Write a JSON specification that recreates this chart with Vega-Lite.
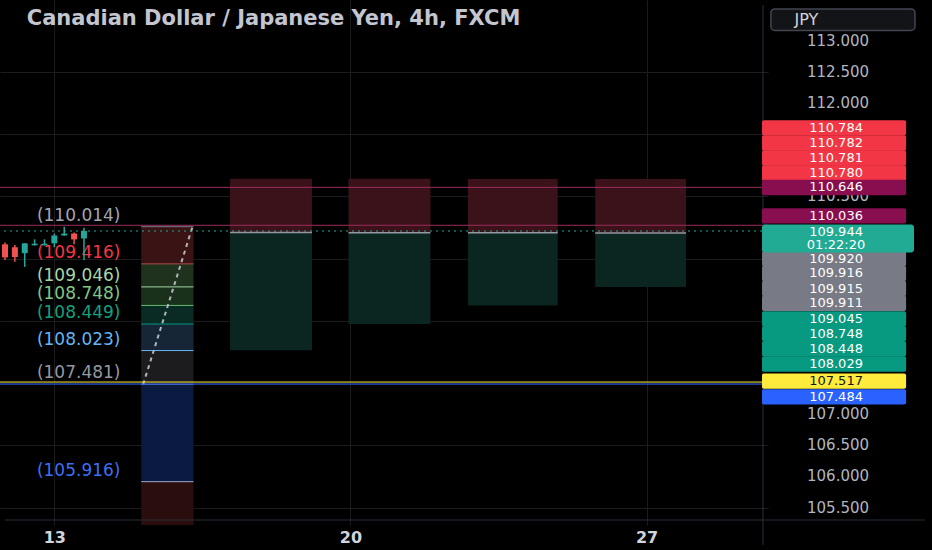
{
 "$schema": "https://vega.github.io/schema/vega-lite/v6.json",
 "width": 768,
 "height": 525,
 "autosize": {"type": "none"},
 "padding": {"left": 0, "top": 0, "right": 164, "bottom": 25},
 "background": "#000000",
 "config": {"view": {"stroke": null}, "font": "DejaVu Sans", "axis": {"titleOpacity": 0}},
 "datasets": {
  "candles": [
   {"i": -5, "o": 109.73, "h": 109.76, "l": 109.48, "c": 109.52, "k": "down"},
   {"i": -4, "o": 109.683, "h": 109.72, "l": 109.45, "c": 109.525, "k": "down"},
   {"i": -3, "o": 109.588, "h": 109.746, "l": 109.367, "c": 109.746, "k": "up"},
   {"i": -2, "o": 109.715, "h": 109.81, "l": 109.71, "c": 109.74, "k": "up"},
   {"i": -1, "o": 109.715, "h": 109.81, "l": 109.71, "c": 109.74, "k": "up"},
   {"i": 0, "o": 109.746, "h": 109.903, "l": 109.683, "c": 109.872, "k": "up"},
   {"i": 1, "o": 109.872, "h": 110.014, "l": 109.868, "c": 109.903, "k": "up"},
   {"i": 2, "o": 109.903, "h": 109.92, "l": 109.73, "c": 109.809, "k": "down"},
   {"i": 3, "o": 109.824, "h": 109.998, "l": 109.478, "c": 109.944, "k": "up"}
  ],
  "fibZones": [
   {"top": 110.014, "bot": 109.416, "k": "fz1"},
   {"top": 109.416, "bot": 109.046, "k": "fz2"},
   {"top": 109.046, "bot": 108.748, "k": "fz3"},
   {"top": 108.748, "bot": 108.449, "k": "fz4"},
   {"top": 108.449, "bot": 108.023, "k": "fz5"},
   {"top": 108.023, "bot": 107.481, "k": "fz6"},
   {"top": 107.481, "bot": 105.916, "k": "fz7"},
   {"top": 105.916, "bot": 103.383, "k": "fz8"}
  ],
  "fib": [
   {"p": 110.014, "lk": "fl0", "label": "(110.014)", "tk": "t0"},
   {"p": 109.416, "lk": "fl1", "label": "(109.416)", "tk": "t1"},
   {"p": 109.046, "lk": "fl2", "label": "(109.046)", "tk": "t2"},
   {"p": 108.748, "lk": "fl3", "label": "(108.748)", "tk": "t3"},
   {"p": 108.449, "lk": "fl4", "label": "(108.449)", "tk": "t4"},
   {"p": 108.023, "lk": "fl5", "label": "(108.023)", "tk": "t5"},
   {"p": 107.481, "lk": "fl6", "label": "(107.481)", "tk": "t6"},
   {"p": 105.916, "lk": "fl7", "label": "(105.916)", "tk": "t7"}
  ],
  "trend": [
   {"i": 9, "p": 107.481},
   {"i": 14, "p": 110.014}
  ],
  "positions": [
   {"x0": 17.8, "x1": 26.1, "entry": 109.920, "stop": 110.784, "target": 108.029},
   {"x0": 29.8, "x1": 38.1, "entry": 109.916, "stop": 110.782, "target": 108.448},
   {"x0": 41.9, "x1": 51.0, "entry": 109.915, "stop": 110.781, "target": 108.748},
   {"x0": 54.8, "x1": 64.0, "entry": 109.911, "stop": 110.780, "target": 109.045}
  ],
  "hlines": [
   {"p": 110.646, "k": "res"},
   {"p": 110.036, "k": "res"},
   {"p": 107.517, "k": "yellow"},
   {"p": 107.484, "k": "blue"}
  ],
  "priceTicks": [
   {"v": 105.5, "label": "105.500"},
   {"v": 106.0, "label": "106.000"},
   {"v": 106.5, "label": "106.500"},
   {"v": 107.0, "label": "107.000"},
   {"v": 110.5, "label": "110.500"},
   {"v": 112.0, "label": "112.000"},
   {"v": 112.5, "label": "112.500"},
   {"v": 113.0, "label": "113.000"}
  ],
  "tags": [
   {"at": 111.601, "label": "110.784", "bg": "tagRed", "fg": "txtW"},
   {"at": 111.358, "label": "110.782", "bg": "tagRed", "fg": "txtW"},
   {"at": 111.117, "label": "110.781", "bg": "tagRed", "fg": "txtW"},
   {"at": 110.876, "label": "110.780", "bg": "tagRed", "fg": "txtW"},
   {"at": 110.644, "label": "110.646", "bg": "tagMag", "fg": "txtW"},
   {"at": 110.187, "label": "110.036", "bg": "tagMag", "fg": "txtW"},
   {"at": 109.501, "label": "109.920", "bg": "tagGray", "fg": "txtW"},
   {"at": 109.262, "label": "109.916", "bg": "tagGray", "fg": "txtW"},
   {"at": 109.020, "label": "109.915", "bg": "tagGray", "fg": "txtW"},
   {"at": 108.784, "label": "109.911", "bg": "tagGray", "fg": "txtW"},
   {"at": 108.532, "label": "109.045", "bg": "tagGreen", "fg": "txtW"},
   {"at": 108.295, "label": "108.748", "bg": "tagGreen", "fg": "txtW"},
   {"at": 108.051, "label": "108.448", "bg": "tagGreen", "fg": "txtW"},
   {"at": 107.807, "label": "108.029", "bg": "tagGreen", "fg": "txtW"},
   {"at": 107.531, "label": "107.517", "bg": "tagYellow", "fg": "txtK"},
   {"at": 107.279, "label": "107.484", "bg": "tagBlue", "fg": "txtW"}
  ],
  "lastTag": [
   {"at": 109.935, "label": "109.944"},
   {"at": 109.714, "label": "01:22:20"}
  ]
 },
 "layer": [
  {
   "data": {"name": "fibZones"},
   "mark": {"type": "rect", "clip": true},
   "encoding": {
    "x": {
     "datum": 8.8, "type": "quantitative",
     "scale": {"domain": [-5, 71.8], "nice": false, "zero": false},
     "axis": {
      "title": null, "values": [0, 30, 60],
      "labelExpr": "datum.value == 0 ? '13' : datum.value == 30 ? '20' : '27'",
      "labelFontSize": 16, "labelFontWeight": "bold", "labelColor": "#d1d4dc",
      "ticks": false, "tickSize": 0, "labelPadding": 4, "domain": false,
      "grid": true, "gridColor": "#1c1c1c", "labelFlush": false, "zindex": 0
     }
    },
    "x2": {"datum": 14.1},
    "y": {
     "field": "top", "type": "quantitative", "title": null,
     "scale": {"domain": [105.3, 113.576], "nice": false, "zero": false},
     "axis": {
      "title": null, "orient": "right",
      "values": [105.5, 106, 106.5, 107, 107.5, 108, 108.5, 109, 109.5, 110, 110.5, 111, 111.5, 112, 112.5, 113],
      "labels": false, "ticks": false, "tickSize": 0, "domain": false,
      "grid": true, "gridColor": "#1c1c1c", "zindex": 0
     }
    },
    "y2": {"field": "bot"},
    "color": {
     "field": "k", "type": "nominal", "legend": null,
     "scale": {
      "domain": ["up","down","fz1","fz2","fz3","fz4","fz5","fz6","fz7","fz8","fl0","fl1","fl2","fl3","fl4","fl5","fl6","fl7","t0","t1","t2","t3","t4","t5","t6","t7","stop","target","entry","res","yellow","blue","last","tagRed","tagMag","tagTeal","tagGray","tagGreen","tagYellow","tagBlue","txtW","txtK"],
      "range": ["#26a69a","#ef5350","#3a1414","#1e321e","#19301a","#0a2a24","#162637","#1c1c1e","#0b1a40","#2a0d0d","#787b86","#b24a4a","#a5d6a7","#66bb6a","#089981","#64b5f6","#787b86","#9fa8da","#a3a6af","#f23645","#a5d6a7","#81c784","#14a07c","#64b5f6","#9598a1","#3d6ff5","#3b1219","#0b2621","#9598a1","#9c2d5e","#ffeb3b","#2962ff","#22ab94","#f23645","#880e4f","#22ab94","#787b86","#089981","#ffeb3b","#2962ff","#ffffff","#131722"]
     }
    }
   }
  },
  {
   "data": {"name": "positions"},
   "mark": {"type": "rect"},
   "encoding": {
    "x": {"field": "x0", "type": "quantitative", "title": null},
    "x2": {"field": "x1"},
    "y": {"field": "entry", "type": "quantitative", "title": null},
    "y2": {"field": "stop"},
    "color": {"datum": "stop", "type": "nominal", "legend": null}
   }
  },
  {
   "data": {"name": "positions"},
   "mark": {"type": "rect"},
   "encoding": {
    "x": {"field": "x0", "type": "quantitative", "title": null},
    "x2": {"field": "x1"},
    "y": {"field": "entry", "type": "quantitative", "title": null},
    "y2": {"field": "target"},
    "color": {"datum": "target", "type": "nominal", "legend": null}
   }
  },
  {
   "data": {"name": "fib"},
   "mark": {"type": "rule", "strokeWidth": 1},
   "encoding": {
    "x": {"datum": 8.8, "type": "quantitative"},
    "x2": {"datum": 14.1},
    "y": {"field": "p", "type": "quantitative", "title": null},
    "color": {"field": "lk", "type": "nominal", "legend": null}
   }
  },
  {
   "data": {"name": "trend"},
   "mark": {"type": "line", "strokeDash": [4, 4], "strokeWidth": 2},
   "encoding": {
    "x": {"field": "i", "type": "quantitative", "title": null},
    "y": {"field": "p", "type": "quantitative", "title": null},
    "color": {"value": "#b2b5be"}
   }
  },
  {
   "data": {"name": "fib"},
   "mark": {"type": "text", "align": "right", "baseline": "bottom", "dy": -2, "fontSize": 17},
   "encoding": {
    "x": {"datum": 6.7, "type": "quantitative"},
    "y": {"field": "p", "type": "quantitative", "title": null},
    "text": {"field": "label"},
    "color": {"field": "tk", "type": "nominal", "legend": null}
   }
  },
  {
   "data": {"name": "hlines"},
   "mark": {"type": "rule", "strokeWidth": 1},
   "encoding": {
    "y": {"field": "p", "type": "quantitative", "title": null},
    "color": {"field": "k", "type": "nominal", "legend": null}
   }
  },
  {
   "data": {"values": [{}]},
   "mark": {"type": "rule", "strokeWidth": 1, "strokeDash": [2, 4]},
   "encoding": {
    "y": {"datum": 109.944, "type": "quantitative"},
    "color": {"datum": "last", "type": "nominal", "legend": null}
   }
  },
  {
   "data": {"name": "positions"},
   "mark": {"type": "rule", "strokeWidth": 1.5},
   "encoding": {
    "x": {"field": "x0", "type": "quantitative", "title": null},
    "x2": {"field": "x1"},
    "y": {"field": "entry", "type": "quantitative", "title": null},
    "color": {"datum": "entry", "type": "nominal", "legend": null}
   }
  },
  {
   "data": {"name": "candles"},
   "mark": {"type": "rule", "strokeWidth": 1.5},
   "encoding": {
    "x": {"field": "i", "type": "quantitative", "title": null},
    "y": {"field": "l", "type": "quantitative", "title": null},
    "y2": {"field": "h"},
    "color": {"field": "k", "type": "nominal", "legend": null}
   }
  },
  {
   "data": {"name": "candles"},
   "mark": {"type": "bar", "size": 6},
   "encoding": {
    "x": {"field": "i", "type": "quantitative", "title": null},
    "y": {"field": "o", "type": "quantitative", "title": null},
    "y2": {"field": "c"},
    "color": {"field": "k", "type": "nominal", "legend": null}
   }
  },
  {
   "data": {"values": [{"label": "Canadian Dollar / Japanese Yen, 4h, FXCM"}]},
   "mark": {"type": "text", "align": "left", "baseline": "middle", "fontSize": 21, "fontWeight": "bold"},
   "encoding": {
    "x": {"datum": -2.8, "type": "quantitative"},
    "y": {"datum": 113.355, "type": "quantitative"},
    "text": {"field": "label"},
    "color": {"value": "#c3c6ce"}
   }
  },
  {
   "data": {"values": [{}]},
   "mark": {"type": "rule", "strokeWidth": 1},
   "encoding": {
    "x": {"datum": -5, "type": "quantitative"},
    "x2": {"datum": 88.2},
    "y": {"datum": 105.3, "type": "quantitative"},
    "color": {"value": "#2a2e39"}
   }
  },
  {
   "data": {"values": [{}]},
   "mark": {"type": "rule", "strokeWidth": 1},
   "encoding": {
    "x": {"datum": 71.8, "type": "quantitative"},
    "y": {"datum": 113.576, "type": "quantitative"},
    "y2": {"datum": 104.9},
    "color": {"value": "#2a2e39"}
   }
  },
  {
   "data": {"name": "priceTicks"},
   "mark": {"type": "text", "align": "center", "baseline": "middle", "fontSize": 15},
   "encoding": {
    "x": {"datum": 79.4, "type": "quantitative"},
    "y": {"field": "v", "type": "quantitative", "title": null},
    "text": {"field": "label"},
    "color": {"value": "#b2b5be"}
   }
  },
  {
   "data": {"name": "tags"},
   "mark": {"type": "bar", "size": 15.4, "cornerRadius": 2},
   "encoding": {
    "x": {"datum": 71.7, "type": "quantitative"},
    "x2": {"datum": 86.3},
    "y": {"field": "at", "type": "quantitative", "title": null},
    "color": {"field": "bg", "type": "nominal", "legend": null}
   }
  },
  {
   "data": {"name": "tags"},
   "mark": {"type": "text", "align": "center", "baseline": "middle", "fontSize": 13},
   "encoding": {
    "x": {"datum": 79.2, "type": "quantitative"},
    "y": {"field": "at", "type": "quantitative", "title": null},
    "text": {"field": "label"},
    "color": {"field": "fg", "type": "nominal", "legend": null}
   }
  },
  {
   "data": {"values": [{}]},
   "mark": {"type": "bar", "size": 28, "cornerRadius": 3},
   "encoding": {
    "x": {"datum": 71.7, "type": "quantitative"},
    "x2": {"datum": 87.1},
    "y": {"datum": 109.824, "type": "quantitative"},
    "color": {"datum": "tagTeal", "type": "nominal", "legend": null}
   }
  },
  {
   "data": {"name": "lastTag"},
   "mark": {"type": "text", "align": "center", "baseline": "middle", "fontSize": 13},
   "encoding": {
    "x": {"datum": 79.2, "type": "quantitative"},
    "y": {"field": "at", "type": "quantitative", "title": null},
    "text": {"field": "label"},
    "color": {"datum": "txtW", "type": "nominal", "legend": null}
   }
  },
  {
   "data": {"values": [{}]},
   "mark": {"type": "rect", "cornerRadius": 4, "fill": "#131418", "stroke": "#434651", "strokeWidth": 1.5},
   "encoding": {
    "x": {"datum": 72.6, "type": "quantitative"},
    "x2": {"datum": 87.2},
    "y": {"datum": 113.513, "type": "quantitative"},
    "y2": {"datum": 113.166}
   }
  },
  {
   "data": {"values": [{"label": "JPY"}]},
   "mark": {"type": "text", "align": "left", "baseline": "middle", "fontSize": 16},
   "encoding": {
    "x": {"datum": 75, "type": "quantitative"},
    "y": {"datum": 113.34, "type": "quantitative"},
    "text": {"field": "label"},
    "color": {"value": "#d1d4dc"}
   }
  }
 ]
}
